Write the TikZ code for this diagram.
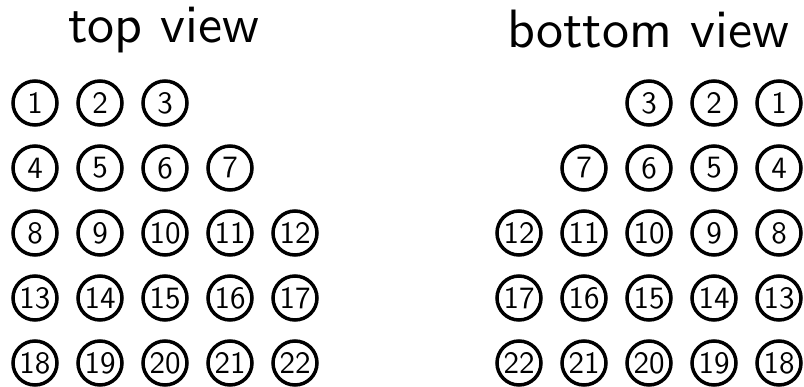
\documentclass[tikz,border=0pt]{standalone}
\begin{document}
\begin{tikzpicture}[x=1pt,y=-1pt,
  pin/.style={circle,draw=black,line width=3.5pt,minimum size=44pt,inner sep=0pt,
    font=\sffamily\fontsize{10}{10}\selectfont},
  title/.style={anchor=base,inner sep=0pt,font=\sffamily\fontsize{10}{10}\selectfont}]
\useasboundingbox (0,0) rectangle (804,387);
\node[title] (tt) at (164,43) {\scalebox{5.4}{top view}};
\node[title] (bt) at (648,48) {\scalebox{5.4}{bottom view}};
\foreach \n/\c/\r in {1/0/0,2/1/0,3/2/0,
  4/0/1,5/1/1,6/2/1,7/3/1,
  8/0/2,9/1/2,10/2/2,11/3/2,12/4/2,
  13/0/3,14/1/3,15/2/3,16/3/3,17/4/3,
  18/0/4,19/1/4,20/2/4,21/3/4,22/4/4}{
  \node[pin] (t\n) at ({35+65*\c},{103+65*\r}) {\scalebox{3.1}{\n}};
  \node[pin] (b\n) at ({779-65*\c},{103+65*\r}) {\scalebox{3.1}{\n}};
}
\end{tikzpicture}
\end{document}
